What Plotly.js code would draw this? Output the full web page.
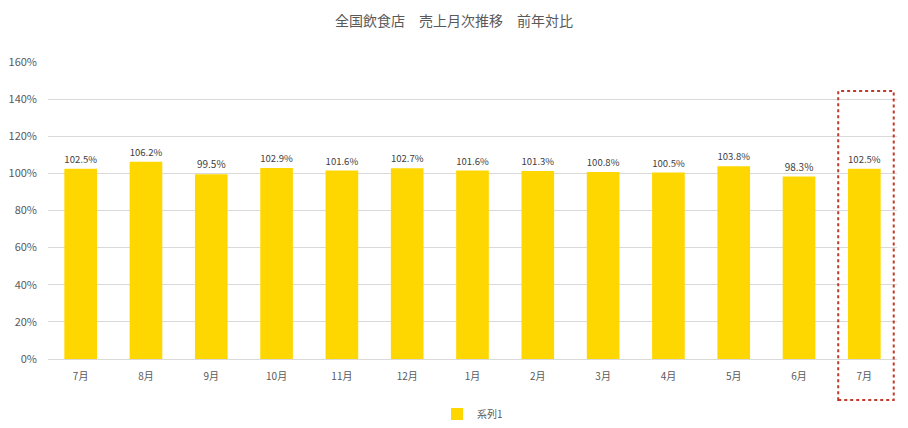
<!DOCTYPE html>
<html>
<head>
<meta charset="utf-8">
<script src="https://cdn.plot.ly/plotly-3.0.1.min.js"></script>
<style>html,body{margin:0;padding:0;background:#fff;}#chart{width:908px;height:428px;}</style>
</head>
<body>
<div id="chart"></div>
<script>
const months = ['7月','8月','9月','10月','11月','12月','1月','2月','3月','4月','5月','6月','7月'];
const values = [1.025, 1.062, 0.995, 1.029, 1.016, 1.027, 1.016, 1.013, 1.008, 1.005, 1.038, 0.983, 1.025];
const seriesName = '系列1';
const idx = months.map((_, i) => i);
const lastIdx = months.length - 1;
const font = '"Noto Sans CJK JP", "Noto Sans", sans-serif';

const trace = {
  type: 'bar',
  x: idx,
  y: values,
  name: seriesName,
  marker: {color: '#FFD700'},
  texttemplate: '%{y:.1%}',
  textposition: 'outside',
  textfont: {size: 10, color: '#404040', family: font},
  cliponaxis: false,
  showlegend: true,
  hoverinfo: 'x+y'
};

const layout = {
  width: 908, height: 428,
  margin: {l: 48, r: 11, t: 62, b: 69, autoexpand: false},
  paper_bgcolor: '#fff', plot_bgcolor: '#fff',
  font: {family: font, color: '#595959', size: 11},
  title: {text: '全国飲食店　売上月次推移　前年対比', font: {size: 14, color: '#595959', family: font}, x: 0.5, xref: 'container', y: 0.95, yanchor: 'middle'},
  bargap: 0.5,
  xaxis: {
    tickmode: 'array', tickvals: idx, ticktext: months,
    range: [-0.5, lastIdx + 0.5],
    showgrid: false, zeroline: false,
    showline: true, linecolor: '#d9d9d9', linewidth: 1,
    ticks: '', ticklabelstandoff: 8, tickfont: {size: 10, color: '#595959'}
  },
  yaxis: {
    range: [0, 1.6], dtick: 0.2, tickformat: '.0%',
    showgrid: true, gridcolor: '#d9d9d9', gridwidth: 1,
    zeroline: false, showline: false, ticks: '', ticklabelstandoff: 10,
    tickfont: {size: 11, color: '#595959'}
  },
  showlegend: true,
  legend: {orientation: 'h', x: 0.5, xanchor: 'center', y: -0.185, yanchor: 'middle', font: {size: 10, color: '#595959'}},
  shapes: [{
    type: 'rect', xref: 'x', yref: 'paper',
    x0: lastIdx - 0.4, x1: lastIdx + 0.45, y0: -0.138, y1: 0.902,
    line: {color: '#C0392B', width: 2, dash: 'dot'},
    fillcolor: 'rgba(0,0,0,0)'
  }]
};

Plotly.newPlot('chart', [trace], layout, {displayModeBar: false, staticPlot: true});
</script>
</body>
</html>
